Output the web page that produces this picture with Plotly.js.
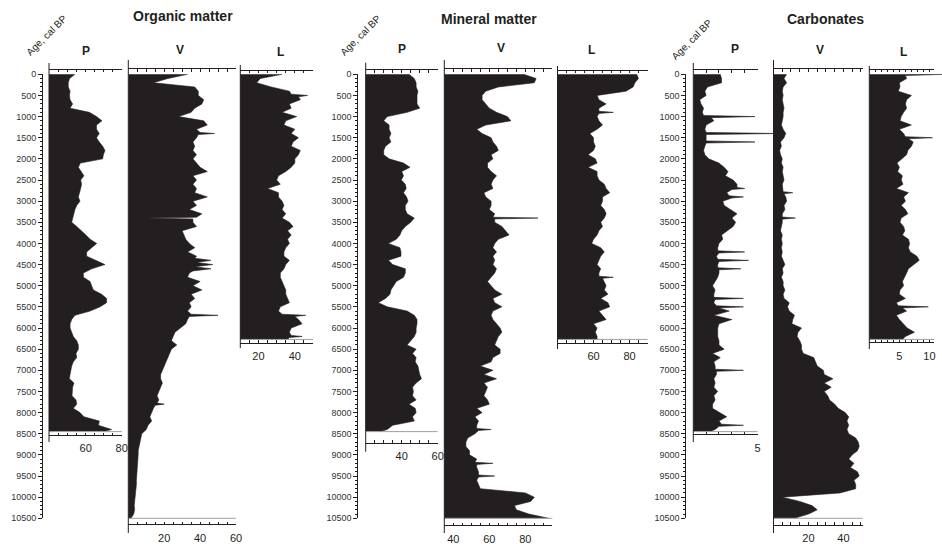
<!DOCTYPE html>
<html><head><meta charset="utf-8">
<script src="https://cdn.plot.ly/plotly-3.0.1.min.js"></script>
<style>html,body{margin:0;padding:0;background:#fff}#chart{width:942px;height:544px}</style>
</head><body><div id="chart"></div>
<script>
// ---- sample ages (cal BP) ----
const AGE_P=[0,100,200,300,400,500,600,700,800,900,1000,1100,1200,1300,1400,1500,1600,1700,1800,1900,2000,2100,2200,2300,2400,2500,2600,2700,2800,2900,3000,3100,3200,3300,3400,3500,3600,3700,3800,3900,4000,4100,4200,4300,4400,4500,4600,4700,4800,4900,5000,5100,5200,5300,5400,5500,5600,5700,5800,5900,6000,6100,6200,6300,6400,6500,6600,6700,6800,6900,7000,7100,7200,7300,7400,7500,7600,7700,7800,7900,8000,8100,8200,8300,8400,8450];
const AGE_V=[0,100,200,300,400,500,600,700,800,900,1000,1100,1200,1300,1400,1500,1600,1700,1800,1900,2000,2100,2200,2300,2400,2500,2600,2700,2800,2900,3000,3100,3200,3300,3400,3500,3600,3700,3800,3900,4000,4100,4200,4300,4400,4500,4600,4700,4800,4900,5000,5100,5200,5300,5400,5500,5600,5700,5800,5900,6000,6100,6200,6300,6400,6500,6600,6700,6800,6900,7000,7100,7200,7300,7400,7500,7600,7700,7800,7900,8000,8100,8200,8300,8400,8500,8600,8700,8800,8900,9000,9100,9200,9300,9400,9500,9600,9700,9800,9900,10000,10100,10200,10300,10400,10500];
const AGE_L=[0,100,200,300,400,500,600,700,800,900,1000,1100,1200,1300,1400,1500,1600,1700,1800,1900,2000,2100,2200,2300,2400,2500,2600,2700,2800,2900,3000,3100,3200,3300,3400,3500,3600,3700,3800,3900,4000,4100,4200,4300,4400,4500,4600,4700,4800,4900,5000,5100,5200,5300,5400,5500,5600,5700,5800,5900,6000,6100,6200,6270];

// ---- Organic matter ----
const orgP=[54,51,50.3,50.3,51.3,51,51.3,52.7,51.3,62,
66,69,66,66,67.5,66,67.5,69.4,70.7,69.8,
69.4,57,55.9,57.7,59,57.2,57.7,57.2,56.4,55.9,
56.8,55,54,53.5,53.1,52.2,55,57.7,60.1,62.4,
66.1,63.3,60.5,60.5,66.1,70.7,63.3,58.7,58.7,62.4,
63.3,64.2,68.8,71.6,71.6,68,62.4,54,52.2,51.3,
51.3,52.2,53.1,55,55.9,55.9,54.6,55,53.1,52.2,
51.6,51.3,50.9,53.5,52.7,52.7,52.4,54.6,55,53.1,
56.8,59,67.6,67,74.4,69.8];
const orgV=[33,22,14,37,39,39,42,41,37,35,
28,42,44,38,48,38,36,37,36,38,
36,38,40,44,36,38,36,38,37,44,
36,38,34,41,10,36,38,30,31,32,
34,37,33,38,46,47,46,34,33,40,
36,41,35,37,34,35,33,50,33,32,
29,26,25,24,27,24,23,22,21,20,
19,18,18,19,18,17,16,17,20,14,
13,12,13,11,10,7.5,7,6.5,6,5.5,
5.5,5.3,5,5,4.8,4.5,4.5,4.5,4.2,3.8,
3.5,3.3,3.3,3.5,3,1.5];
const orgV_xAge=[1375,1425,3380,3420,4350,4450,4550,4650,5675,5725,7775,7825];
const orgV_xVal=[40,39,38,36,37,38,37,36,35,34,16,15];
const orgL=[33,21,19,27,37,47,43,37,38,33,
41,35,34,40,38,42,39,38,43,42,
40,40,38,35,31,30,32,25,31,31,
33,34,33,35,33,37,39,36,38,36,
37,35,34,34,37,35,34,32,32,33,
34,35,35,36,37,32,31,46,42,44,
38,37,44,36];
const orgL_xAge=[470,530,5675,5725,6175,6225];
const orgL_xVal=[38,42,33,40,38,37];

// ---- Mineral matter ----
const minP=[44,47,48,48,49,48.5,48.5,48.5,50,43,
32,30,33,33,34,33,34,31,30,30,
33,41,44.6,40,41,39.8,42,42.5,41,42.7,
43.5,42,42,43,47,45,42,40,39,37,
32.5,39,39.6,39.6,32.6,35,42,42,41,37,
35.5,34,33.5,31,27,32,43,47,48.5,48.5,
48,48,47,45,43,48,46,48,47.5,49,
49.5,50,51,48,46,46.5,46,48,44,47.5,
48,46,47,35,32,28];
const minV=[79,86,85,65,58,56,56,58,60,64,
70,72,58,53,56,61,62,64,65,61,
62,59,59,61,64,62,61,62,57,58,
61,61,60,63,87,63,67,69,71,65,
63,62,64,62,63,62,64,63,61,59,
61,63,67,62,63,67,62,61,62,64,
66,67,65,64,63,66,66,62,61,55,
62,57,64,57,59,58,57,59,60,53,
56,52,54,53,61,52,48,47,47,49,
49,53,62,53,54,63,53,54,55,80,
85,83,74,75,82,93];
const minV_xAge=[3380,3420,8375,8425,9175,9225,9475,9525];
const minV_xVal=[62,63,53,54,52,53,54,54];
const minL=[84,85,83,82,78,62,63,67,63,71,
62,63,65,62,58,60,60,61,60,57,
61,62,57,62,62,63,66,67,69,65,
65,64,66,67,66,64,65,63,62,60,
59,64,66,64,63,62,64,63,71,66,
67,66,68,64,68,69,63,65,67,60,
62,61,62,62];
const minL_xAge=[875,925,4775,4825];
const minL_xVal=[63,63,63,65];

// ---- Carbonates ----
const carbP=[2.1,2.2,2.2,1.1,0.9,1.0,0.5,0.6,0.8,0.7,
4.8,1.6,1.0,0.9,6.6,1.0,4.8,0.9,0.8,0.9,
1.2,2.0,2.4,2.7,2.5,3.1,3.4,4.0,2.6,3.9,
2.3,2.4,2.9,3.4,3.0,3.3,3.1,2.6,2.2,2.3,
2.0,1.9,4.0,1.8,4.3,1.9,3.7,2.0,1.9,1.7,
1.5,1.7,1.6,3.9,1.6,3.9,2.8,1.6,3.0,2.0,
1.9,1.9,1.9,2.0,2.0,2.4,1.5,2.1,1.6,1.7,
3.9,1.8,1.6,1.7,1.6,1.9,1.6,1.7,1.5,1.5,
2.0,2.6,2.0,3.9,1.7,1.3];
const carbP_xAge=[975,1025,1375,1425,1575,1625,2675,2725,2875,2925,4175,4225,4375,4425,4575,4625,5275,5325,5475,5525,6975,7025,8275,8325];
const carbP_xVal=[0.8,1.4,1.0,1.0,1.0,1.0,3.4,3.0,2.8,3.0,1.9,2.0,1.9,2.0,1.9,2.0,1.6,1.7,1.8,2.0,1.7,1.8,2.2,2.0];
const carbV=[7.5,6,7.5,5.5,5,5.5,5,5.5,6,5.5,
5.5,5,4.5,5.5,7,6,4,4.5,3.5,4,
5,4.5,5.5,5,5.5,6,5,5.5,11,7,
7.5,6,6.5,5,12.5,5,4.5,4,5,4.5,
5,4.5,5,4.5,5.5,6.5,5,5.5,4.5,5.5,
5.5,6.5,5.5,6,9,8,9,12,11,10.5,
16,14,13.5,15,16,16,17,23,24,25,
28.5,29,34,29,33,29,31,32,35,37,
41,43,42,43,42,43,47,48.5,49,48,
45,43,46,44,48,49,46,47,47,38,
5,15,22,25,20,12];
const carbV_xAge=[2775,2825,3375,3425];
const carbV_xVal=[5.5,6,5,5];
const carbL=[12.5,6.2,5,5.1,4.8,7,6.2,6,6.2,5.7,
5.3,5.1,7,5,5.7,10.5,7.3,7,6.4,6.2,
5.3,4.6,5,4.7,5.5,5.3,5.6,4.5,6.5,5.7,
6,5.3,6,6.4,5.3,5.1,5.7,5.9,5.5,6.5,
6.7,6.5,6.8,7.9,8.3,7.3,6.5,6.2,5.9,5.5,
5.7,5.1,5,6,4.5,9.8,6.2,4.5,5,5.6,
6.3,7.5,6,5.5];
const carbL_xAge=[30,1475,1525,5475,5525];
const carbL_xVal=[6,6,6.5,4.8,5.5];

const GROUP_TITLES=['Organic matter','Mineral matter','Carbonates'];
const PANEL_LETTERS=['P','V','L'];
const Y_TITLE='Age, cal BP';

// merge the regular samples with the extra readings around narrow peaks
function series(ages,vals,xa,xv){
  const pts=ages.map((a,i)=>[a,vals[i]]);
  (xa||[]).forEach((a,i)=>pts.push([a,xv[i]]));
  pts.sort((p,q)=>p[0]-q[0]);
  return {y:pts.map(p=>p[0]),x:pts.map(p=>p[1])};
}

// ---- layout geometry (pixels) ----
const W=942,H=544,Y0=74.3,KY=0.042286;
const INK='#231f20';
const fx=p=>p/W, fy=p=>1-p/H, ageAt=p=>(p-Y0)/KY;
const nm=i=>i===1?'':String(i);

const panels=[
 {s:series(AGE_P,orgP),                      xl:49,   xr:121.7,range:[39.6,80],step:5,labels:[60,80],   yt:69.5,yb:435,  lt:63,  lb:442},
 {s:series(AGE_V,orgV,orgV_xAge,orgV_xVal),  xl:128.3,xr:236,  range:[0,60],   step:5,labels:[20,40,60],yt:69.3,yb:524.3,lt:60,  lb:533},
 {s:series(AGE_L,orgL,orgL_xAge,orgL_xVal),  xl:240.3,xr:313,  range:[10,50],  step:5,labels:[20,40],   yt:70.5,yb:342.7,lt:65,  lb:348},
 {s:series(AGE_P,minP),                      xl:365.7,xr:437.7,range:[20,60],  step:5,labels:[40,60],   yt:70,  yb:442.5,lt:62.7,lb:451.7},
 {s:series(AGE_V,minV,minV_xAge,minV_xVal),  xl:444.3,xr:552.3,range:[35,95],  step:5,labels:[40,60,80],yt:69.3,yb:525.3,lt:60,  lb:533},
 {s:series(AGE_L,minL,minL_xAge,minL_xVal),  xl:557.5,xr:647.5,range:[40,90],  step:5,labels:[60,80],   yt:70.7,yb:342.7,lt:66,  lb:349},
 {s:series(AGE_P,carbP,carbP_xAge,carbP_xVal),xl:693.3,xr:757.5,range:[0,5],   step:1,labels:[5],       yt:70,  yb:434.3,lt:63,  lb:442, ext:773.3},
 {s:series(AGE_V,carbV,carbV_xAge,carbV_xVal),xl:773.5,xr:862.7,range:[0,51],  step:5,labels:[20,40],   yt:69.3,yb:524.5,lt:60,  lb:533},
 {s:series(AGE_L,carbL,carbL_xAge,carbL_xVal),xl:869.3,xr:934.3,range:[0,10.8],step:1,labels:[5,10],    yt:69.5,yb:342.3,lt:66,  lb:349, ext:942}
];
const yAxisX=[42,357.3,685.3];
const titlePos=[[183,16],[489,19],[825,19]];
const letterPos=[[85.5,51],[179.5,50.5],[280,52],[402,49],[501,48.5],[591,50.5],[734.5,49],[819.5,50],[903,51.5]];
const agePos=[[46,35],[360,35],[692,40]];

const layout={width:W,height:H,margin:{l:0,r:0,t:0,b:0},autosize:false,
  paper_bgcolor:'#ffffff',plot_bgcolor:'rgba(0,0,0,0)',showlegend:false,
  font:{family:'Liberation Sans, Arial, sans-serif',color:INK},
  annotations:[],shapes:[]};
const data=[];
let extIdx=10;

panels.forEach((p,k)=>{
  const i=k+1;
  const tv=[],tt=[];
  const s0=Math.ceil(p.range[0]/p.step-1e-9)*p.step;
  for(let v=s0; v<=p.range[1]+1e-9; v+=p.step){
    const r=Math.round(v*1000)/1000; tv.push(r);
    tt.push(p.labels.indexOf(r)>=0?String(r):'');
  }
  layout['xaxis'+nm(i)]={domain:[fx(p.xl),fx(p.xr)],range:p.range,anchor:'y'+nm(i),
    showline:true,linecolor:INK,linewidth:1,mirror:'ticks',ticks:'inside',ticklen:2.5,tickwidth:1,tickcolor:INK,
    tickmode:'array',tickvals:tv,ticktext:tt,tickfont:{size:11,color:INK},ticklabelstandoff:3,
    showgrid:false,zeroline:false,fixedrange:true};
  layout['yaxis'+nm(i)]={domain:[fy(p.yb),fy(p.yt)],range:[ageAt(p.yb),ageAt(p.yt)],anchor:'x'+nm(i),
    visible:false,showgrid:false,zeroline:false,fixedrange:true};
  let xref='x'+nm(i);
  if(p.ext){
    const pxu=(p.xr-p.xl)/(p.range[1]-p.range[0]);
    const e=extIdx++;
    layout['xaxis'+e]={domain:[fx(p.xl),fx(p.ext)],range:[p.range[0],p.range[0]+(p.ext-p.xl)/pxu],
      anchor:'y'+nm(i),visible:false,showgrid:false,zeroline:false,fixedrange:true};
    xref='x'+e;
    data.push({type:'scatter',mode:'lines',x:[null],y:[null],xaxis:'x'+nm(i),yaxis:'y'+nm(i),hoverinfo:'skip',showlegend:false});
  }
  data.push({type:'scatter',mode:'lines',x:p.s.x,y:p.s.y,xaxis:xref,yaxis:'y'+nm(i),
    fill:'tozerox',fillcolor:INK,line:{color:INK,width:0.6},hoverinfo:'skip',showlegend:false});
  // grey closing line at the end of the record
  const lastAge=p.s.y[p.s.y.length-1];
  layout.shapes.push({type:'line',xref:'paper',yref:'y'+nm(i),x0:fx(p.xl),x1:fx(p.xr),y0:lastAge,y1:lastAge,
    line:{color:'#a0a0a0',width:1}});
  layout.shapes.push({type:'line',xref:'paper',yref:'paper',x0:fx(p.xl),x1:fx(p.xl),y0:fy(p.lt),y1:fy(p.lb),
    line:{color:INK,width:1}});
  layout.annotations.push({text:'<b>'+PANEL_LETTERS[k%3]+'</b>',xref:'paper',yref:'paper',
    x:fx(letterPos[k][0]),y:fy(letterPos[k][1]),xanchor:'center',yanchor:'middle',showarrow:false,
    font:{size:12,color:INK}});
});

// age axes (one per group)
[0,1,2].forEach(g=>{
  const yi=10+g;
  layout['yaxis'+yi]={domain:[fy(518.3),fy(Y0)],range:[10500,0],anchor:'free',position:fx(yAxisX[g]),side:'left',
    showline:true,linecolor:INK,linewidth:1,ticks:'outside',ticklen:4,tickwidth:1,tickcolor:INK,
    tickmode:'linear',tick0:0,dtick:500,tickformat:'d',
    minor:{tickmode:'linear',tick0:0,dtick:100,ticks:'outside',ticklen:2,tickwidth:1,tickcolor:INK},
    tickfont:{size:9,color:'#333'},showgrid:false,zeroline:false,fixedrange:true};
  data.push({type:'scatter',mode:'lines',x:[null],y:[null],xaxis:'x'+nm(3*g+1),yaxis:'y'+yi,
    hoverinfo:'skip',showlegend:false});
  layout.annotations.push({text:'<b>'+GROUP_TITLES[g]+'</b>',xref:'paper',yref:'paper',
    x:fx(titlePos[g][0]),y:fy(titlePos[g][1]),xanchor:'center',yanchor:'middle',showarrow:false,
    font:{size:14,color:INK}});
  layout.annotations.push({text:Y_TITLE,xref:'paper',yref:'paper',textangle:-45,
    x:fx(agePos[g][0]),y:fy(agePos[g][1]),xanchor:'center',yanchor:'middle',showarrow:false,
    font:{size:10,color:INK}});
});

Plotly.newPlot('chart',data,layout,{staticPlot:true,displayModeBar:false});
</script></body></html>
